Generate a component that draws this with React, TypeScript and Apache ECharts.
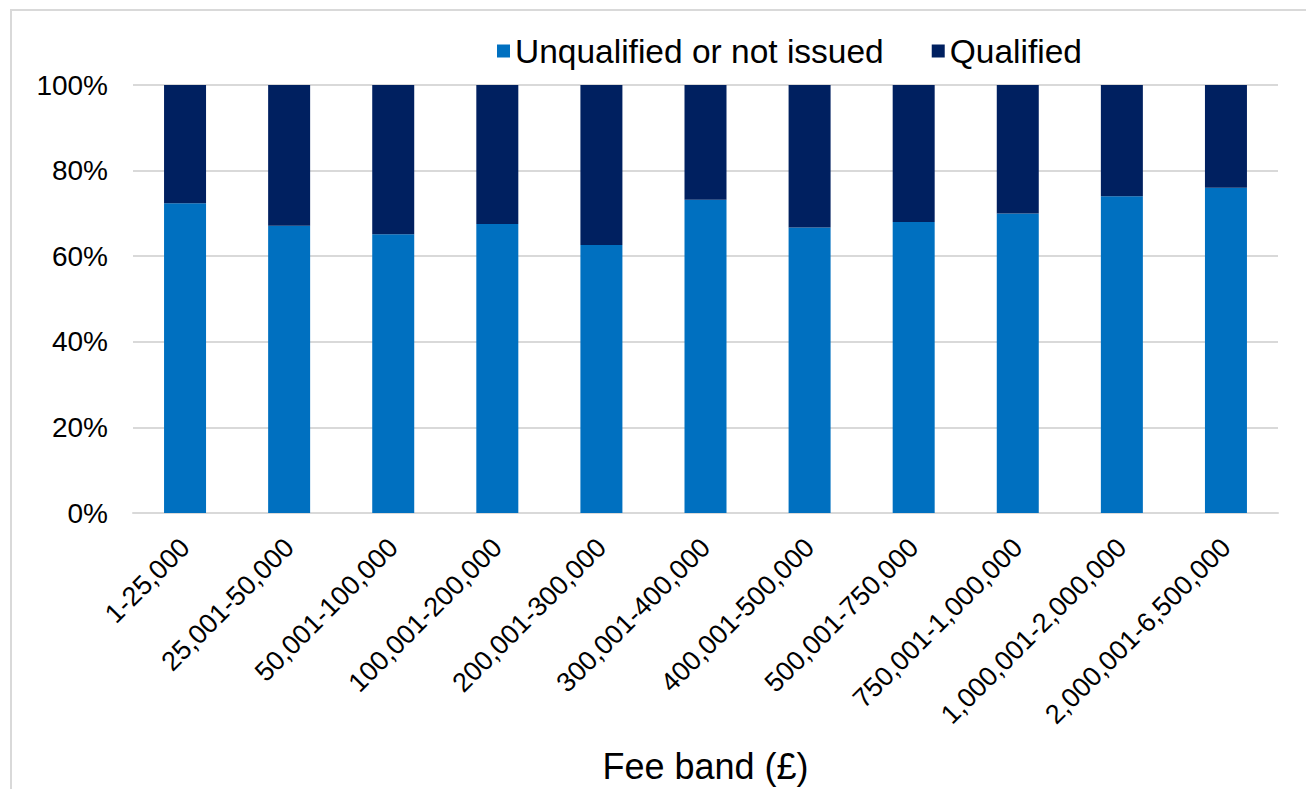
import React, { useEffect, useRef } from "react";
import * as echarts from "echarts";

// Fee bands (£)
const feeBands = [
  "1-25,000",
  "25,001-50,000",
  "50,001-100,000",
  "100,001-200,000",
  "200,001-300,000",
  "300,001-400,000",
  "400,001-500,000",
  "500,001-750,000",
  "750,001-1,000,000",
  "1,000,001-2,000,000",
  "2,000,001-6,500,000",
];

// Share of opinions (%) per fee band
const unqualifiedOrNotIssued = [72.4, 67.1, 65.1, 67.5, 62.6, 73.2, 66.7, 68.0, 70.0, 74.0, 76.0];
const qualified = [27.6, 32.9, 34.9, 32.5, 37.4, 26.8, 33.3, 32.0, 30.0, 26.0, 24.0];

const yTicks = { min: 0, max: 100, interval: 20 };

const FONT = "'Liberation Sans', Arial, sans-serif";

export default function App() {
  const ref = useRef<HTMLDivElement>(null);

  useEffect(() => {
    if (!ref.current) return;
    const chart = echarts.init(ref.current, null, { renderer: "svg" });
    chart.setOption({
      animation: false,
      backgroundColor: "#ffffff",
      textStyle: { fontFamily: FONT },
      graphic: [
        {
          type: "rect",
          shape: { x: 11, y: 10, width: 1400, height: 900 },
          style: { fill: "none", stroke: "#d9d9d9", lineWidth: 2 },
          silent: true,
        },
      ],
      legend: {
        left: 492,
        top: 29,
        itemWidth: 13,
        itemHeight: 13,
        itemGap: 48,
        icon: "rect",
        textStyle: { fontSize: 33.5, color: "#000000", fontFamily: FONT },
        data: ["Unqualified or not issued", "Qualified"],
      },
      grid: { left: 133, right: 28, top: 85, bottom: 269 },
      xAxis: {
        type: "category",
        data: feeBands,
        name: "Fee band (£)",
        nameLocation: "middle",
        nameGap: 235,
        nameTextStyle: { fontSize: 36, color: "#000000", fontFamily: FONT },
        axisLine: { show: true, lineStyle: { color: "#d9d9d9", width: 2 } },
        axisTick: { show: false },
        axisLabel: {
          rotate: 45,
          margin: 30,
          interval: 0,
          fontSize: 27,
          color: "#000000",
          fontFamily: FONT,
        },
      },
      yAxis: {
        type: "value",
        min: yTicks.min,
        max: yTicks.max,
        interval: yTicks.interval,
        axisLine: { show: false },
        axisTick: { show: false },
        splitLine: { lineStyle: { color: "#d9d9d9", width: 2 } },
        axisLabel: {
          formatter: "{value}%",
          margin: 25,
          fontSize: 28,
          color: "#000000",
          fontFamily: FONT,
        },
      },
      series: [
        {
          name: "Unqualified or not issued",
          type: "bar",
          stack: "total",
          barWidth: 42,
          itemStyle: { color: "#0070c0" },
          data: unqualifiedOrNotIssued,
        },
        {
          name: "Qualified",
          type: "bar",
          stack: "total",
          barWidth: 42,
          itemStyle: { color: "#002060" },
          data: qualified,
        },
      ],
    });
    return () => chart.dispose();
  }, []);

  return (
    <div
      ref={ref}
      style={{ position: "fixed", left: 0, top: 0, width: 1306, height: 789 }}
    />
  );
}
